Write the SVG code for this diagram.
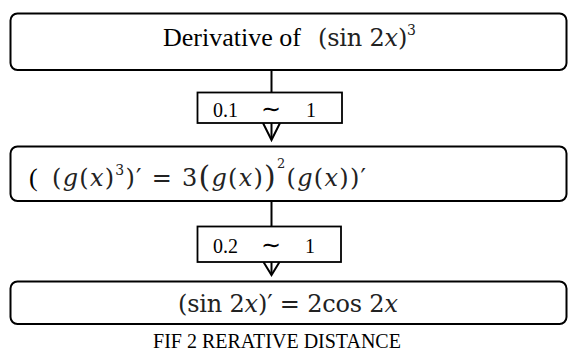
<svg xmlns="http://www.w3.org/2000/svg" width="568" height="352" viewBox="0 0 568 352">
<style>
.box{fill:#fff;stroke:#000;stroke-width:2}
.lbl{fill:#fff;stroke:#000;stroke-width:1.8}
.ln{stroke:#000;stroke-width:2;fill:none}
.t{font-family:"Liberation Serif","Times New Roman",serif;fill:#000}
.m{font-family:"DejaVu Serif","Liberation Serif",serif;fill:#222}
.i{font-style:italic}
</style>
<rect width="568" height="352" fill="#fff"/>
<g id="connectors">
<line class="ln" x1="271.5" y1="70" x2="271.5" y2="92"/>
<line class="ln" x1="271.5" y1="123" x2="271.5" y2="139"/>
<path class="ln" d="M263,123 L271.5,140 L280,123"/>
<line class="ln" x1="271.5" y1="201" x2="271.5" y2="226"/>
<line class="ln" x1="271.5" y1="262" x2="271.5" y2="274"/>
<path class="ln" d="M263.5,262 L271.5,275 L279.5,262"/>
</g>
<g id="node1">
<rect class="box" x="10.5" y="13.5" width="556" height="56.5" rx="7"/>
<text class="t" x="163" y="46" font-size="26">Derivative of</text>
<text class="m" x="318" y="46" font-size="24" textLength="98" lengthAdjust="spacing">(sin 2<tspan class="i">x</tspan>)<tspan font-size="14" dy="-11">3</tspan></text>
</g>
<g id="label1">
<rect class="lbl" x="197.5" y="92.5" width="144.5" height="30.5"/>
<text class="t" x="213" y="116.5" font-size="20">0.1</text>
<text class="t" x="261" y="116.5" font-size="24">∼</text>
<text class="t" x="306" y="116.5" font-size="20">1</text>
</g>
<g id="node2">
<rect class="box" x="10.5" y="146.5" width="556" height="54.5" rx="7"/>
<text class="t" x="29" y="186" font-size="26">(</text>
<text class="m" x="52" y="186" font-size="24" textLength="314" lengthAdjust="spacing">(<tspan class="i">g</tspan>(<tspan class="i">x</tspan>)<tspan font-size="14" dy="-11">3</tspan><tspan dy="11">)′ = 3</tspan><tspan font-size="30" dy="1">(</tspan><tspan class="i" dy="-1">g</tspan>(<tspan class="i">x</tspan>)<tspan font-size="30" dy="1">)</tspan><tspan font-size="13" dy="-19">2</tspan><tspan dy="18">(</tspan><tspan class="i">g</tspan>(<tspan class="i">x</tspan>))′</text>
</g>
<g id="label2">
<rect class="lbl" x="197.5" y="226.5" width="143.5" height="35.5"/>
<text class="t" x="213" y="253" font-size="20">0.2</text>
<text class="t" x="261" y="253" font-size="24">∼</text>
<text class="t" x="305" y="253" font-size="20">1</text>
</g>
<g id="node3">
<rect class="box" x="10.5" y="281.5" width="556" height="42.5" rx="7"/>
<text class="m" x="178" y="312" font-size="24" textLength="220" lengthAdjust="spacing">(sin 2<tspan class="i">x</tspan>)′ = 2cos  2<tspan class="i">x</tspan></text>
</g>
<text class="t" x="277" y="348" font-size="20" text-anchor="middle">FIF 2 RERATIVE DISTANCE</text>
</svg>
